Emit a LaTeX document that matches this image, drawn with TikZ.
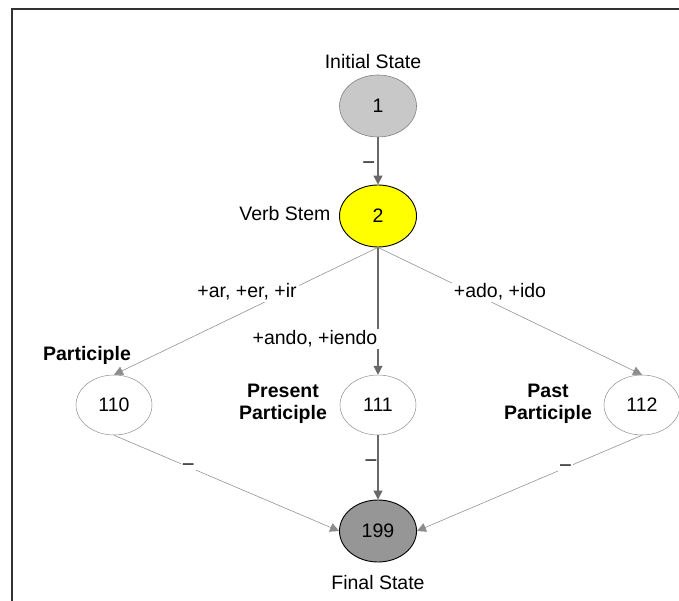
\documentclass[tikz,border=0pt]{standalone}
\usepackage{fontspec}
\setmainfont{Liberation Sans}
\usetikzlibrary{arrows.meta,shapes.geometric}
\definecolor{startfill}{RGB}{200,200,200}
\definecolor{stemfill}{RGB}{255,255,0}
\definecolor{finalfill}{RGB}{150,150,150}
\definecolor{edgegray}{RGB}{105,105,105}
\definecolor{thingray}{RGB}{140,140,140}
\newcommand\statefont{\fontsize{19.5}{22}\selectfont}
\tikzset{state/.style={ellipse,draw=black,line width=.9pt,minimum width=77pt,
  minimum height=62pt,inner sep=0pt},
 slot/.style={state,draw=thingray,line width=.5pt,minimum width=76pt,minimum height=60pt},
 trans/.style={-{Triangle[length=9pt,width=9pt]},draw=edgegray,line width=1.1pt},
 branch/.style={trans,draw=thingray,line width=.55pt},
 lbl/.style={fill=white,inner sep=2pt},
 tag/.style={font=\statefont\bfseries,align=center},
 every node/.style={font=\statefont}}

\begin{document}
\begin{tikzpicture}[x=1pt,y=-1pt]
\useasboundingbox (0,0) rectangle (679,601);
\draw[line width=1.5pt,black!80] (679,9) -- (12,9) -- (12,601);
% states
\node[state,fill=startfill,draw=gray,line width=.6pt] (n1) at (378,106) {1};
\node[state,fill=stemfill] (n2) at (378,216) {2};
\node[slot] (n110) at (114,405) {110};
\node[slot] (n111) at (378,405) {111};
\node[slot] (n112) at (642,405) {112};
\node[state,fill=finalfill] (n199) at (378,531) {199};
% transitions
\draw[trans] (n1) -- node[pos=.58,left] (d1) {--} (n2);
\draw[branch] (n2.south) -- (n110.north);
\draw[trans] (n2) -- (n111);
\draw[branch] (n2.south) -- (n112.north);
\draw[branch] (n110.south) -- node[pos=.33,lbl] (d2) {--} (n199.west);
\draw[trans] (n111) -- node[pos=.42,left,inner sep=1pt] (d3) {--} (n199);
\draw[branch] (n112.south) -- node[pos=.34,lbl] (d4) {--} (n199.east);
% suffix labels
\node[lbl] (sufInf) at (247,292) {+ar, +er, +ir};
\node[lbl] (sufPres) at (315,339) {+ando, +iendo};
\node[lbl] (sufPast) at (500,292) {+ado, +ido};
% captions
\node (initLbl) at (373,62) {Initial State};
\node[anchor=east] (stemLbl) at (334,214) {Verb Stem};
\node[tag] (partLbl) at (87,355) {Participle};
\node[tag] (presLbl) at (283,404) {Present\\Participle};
\node[tag] (pastLbl) at (548,404) {Past\\Participle};
\node (finalLbl) at (378,583) {Final State};
\end{tikzpicture}
\end{document}
